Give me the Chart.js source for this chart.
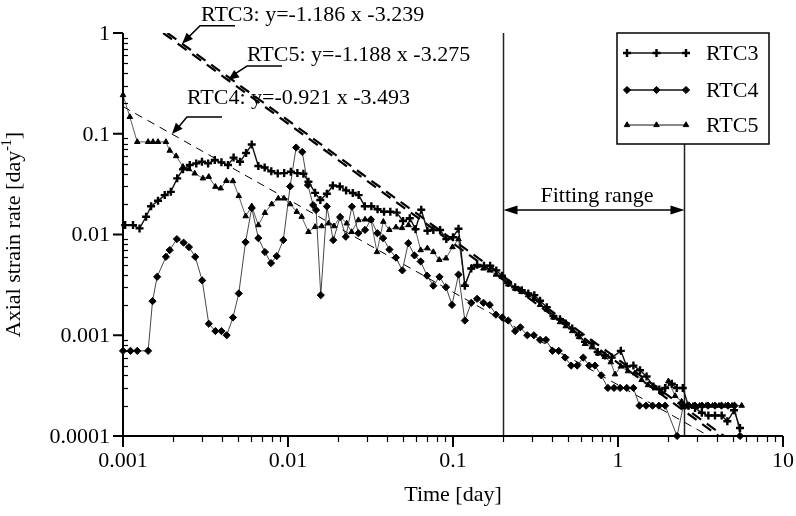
<!DOCTYPE html>
<html>
<head>
<meta charset="utf-8">
<script src="https://cdn.jsdelivr.net/npm/chart.js@4.4.1/dist/chart.umd.min.js"></script>
<style>
  html, body { margin: 0; padding: 0; background: #fff; }
  canvas { display: block; }
</style>
</head>
<body>
<canvas id="myChart" width="796" height="516"></canvas>
<script>
// values (time in days, strain rate in 1/day)
var rtc3Time = [0.00103, 0.00115, 0.00126, 0.00138, 0.00148, 0.00163, 0.00179, 0.00195, 0.00213, 0.00231,
  0.00254, 0.00278, 0.00301, 0.00328, 0.0036, 0.00395, 0.00433, 0.00468, 0.00512, 0.00557,
  0.00603, 0.00661, 0.00722, 0.00792, 0.00867, 0.00948, 0.0104, 0.0114, 0.0124, 0.0133,
  0.0146, 0.0157, 0.0172, 0.0187, 0.0206, 0.0225, 0.0247, 0.0268, 0.0292, 0.032,
  0.0349, 0.0382, 0.0417, 0.0456, 0.0498, 0.0547, 0.0593, 0.0642, 0.07, 0.076,
  0.0835, 0.0911, 0.1, 0.108, 0.118, 0.129, 0.14, 0.154, 0.168, 0.183,
  0.198, 0.216, 0.238, 0.261, 0.286, 0.311, 0.337, 0.37, 0.406, 0.445,
  0.482, 0.528, 0.58, 0.631, 0.693, 0.753, 0.834, 0.916, 1.04, 1.13,
  1.24, 1.36, 1.49, 1.64, 1.78, 1.93, 2.12, 2.27, 2.47, 2.67,
  2.93, 3.22, 3.53, 3.87, 4.25, 4.6, 5.05, 5.49];
var rtc3Rate = [0.0124, 0.0124, 0.0115, 0.015, 0.0191, 0.0216, 0.0246, 0.0265, 0.0361, 0.0443,
  0.0489, 0.0508, 0.0527, 0.0508, 0.0548, 0.052, 0.0489, 0.058, 0.0527, 0.0643,
  0.0781, 0.0478, 0.0462, 0.0424, 0.0404, 0.0407, 0.0419, 0.0407, 0.0401, 0.0334,
  0.0259, 0.022, 0.0254, 0.0306, 0.03, 0.0274, 0.0258, 0.0246, 0.0191, 0.0191,
  0.0178, 0.0168, 0.0168, 0.0165, 0.0136, 0.0145, 0.0113, 0.0176, 0.0109, 0.0111,
  0.0111, 0.009, 0.0094, 0.0114, 0.0031, 0.0046, 0.005, 0.0049, 0.0049, 0.0044,
  0.0039, 0.0033, 0.003, 0.0028, 0.0026, 0.0025, 0.0022, 0.0019, 0.00155, 0.00144,
  0.00131, 0.00117, 0.001, 0.00086, 0.00083, 0.00068, 0.00063, 0.0006, 0.0007, 0.00049,
  0.0005, 0.00045, 0.00039, 0.00031, 0.00029, 0.0003, 0.00033, 0.0003, 0.0003, 0.0002,
  0.00019, 0.00017, 0.00016, 0.00016, 0.00016, 0.00014, 0.00018, 0.00012];

var rtc4Time = [0.001, 0.00111, 0.00122, 0.00142, 0.00151, 0.00161, 0.00182, 0.00192, 0.00212, 0.00233,
  0.00251, 0.00274, 0.00302, 0.00331, 0.00363, 0.00395, 0.00425, 0.00464, 0.00503, 0.00553,
  0.00603, 0.00661, 0.00725, 0.00789, 0.00854, 0.00937, 0.0103, 0.0112, 0.0122, 0.0132,
  0.0142, 0.0148, 0.0158, 0.0172, 0.0188, 0.0207, 0.0224, 0.0244, 0.0267, 0.0293,
  0.0318, 0.0348, 0.0377, 0.0412, 0.0451, 0.0493, 0.0536, 0.0584, 0.0637, 0.0696,
  0.076, 0.0828, 0.0907, 0.0986, 0.108, 0.118, 0.129, 0.14, 0.153, 0.167,
  0.182, 0.199, 0.216, 0.238, 0.256, 0.282, 0.309, 0.337, 0.366, 0.401,
  0.437, 0.478, 0.52, 0.566, 0.616, 0.669, 0.725, 0.792, 0.868, 0.946,
  1.03, 1.13, 1.24, 1.35, 1.48, 1.62, 1.77, 1.93, 2.28, 2.49,
  2.69, 2.93, 3.23, 3.51, 3.87, 4.24, 4.64, 5.08, 5.49];
var rtc4Rate = [0.0007, 0.0007, 0.0007, 0.0007, 0.00218, 0.0038, 0.006, 0.007, 0.009, 0.0083,
  0.0075, 0.006, 0.0035, 0.0013, 0.0011, 0.0011, 0.001, 0.0015, 0.0026, 0.0084,
  0.0183, 0.0092, 0.0067, 0.0052, 0.0061, 0.0088, 0.03, 0.073, 0.066, 0.031,
  0.0196, 0.0175, 0.0025, 0.019, 0.0088, 0.0149, 0.0095, 0.0189, 0.0103, 0.0111,
  0.0141, 0.0103, 0.0092, 0.0071, 0.0059, 0.0044, 0.0082, 0.0062, 0.0054, 0.0039,
  0.0031, 0.0038, 0.003, 0.002, 0.004, 0.0014, 0.0021, 0.0023, 0.0021, 0.002,
  0.0016, 0.0015, 0.0014, 0.0011, 0.0012, 0.001, 0.001, 0.0009, 0.0009, 0.0007,
  0.0007, 0.0006, 0.0005, 0.0005, 0.0006, 0.0005, 0.0005, 0.0004, 0.0003, 0.0003,
  0.0003, 0.0003, 0.0003, 0.0002, 0.0002, 0.0002, 0.0002, 0.0002, 0.0001, 0.0002,
  0.0002, 0.0002, 0.0002, 0.0002, 0.0002, 0.0002, 0.0002, 0.0002, 0.0001];

var rtc5Time = [0.001, 0.0011, 0.00122, 0.00142, 0.00152, 0.00163, 0.00182, 0.00192, 0.0021, 0.00231,
  0.00251, 0.00272, 0.00305, 0.00331, 0.00363, 0.00391, 0.00423, 0.00464, 0.00503, 0.00554,
  0.00603, 0.00661, 0.00725, 0.00796, 0.00873, 0.00946, 0.0103, 0.0113, 0.0121, 0.0133,
  0.0146, 0.016, 0.0176, 0.019, 0.0207, 0.0227, 0.0243, 0.0267, 0.0293, 0.0318,
  0.0346, 0.0378, 0.0411, 0.0451, 0.0491, 0.0537, 0.0589, 0.0637, 0.0699, 0.076,
  0.0826, 0.0907, 0.0993, 0.108, 0.118, 0.13, 0.14, 0.153, 0.167, 0.182,
  0.198, 0.216, 0.238, 0.26, 0.285, 0.311, 0.337, 0.37, 0.406, 0.445,
  0.482, 0.528, 0.58, 0.631, 0.693, 0.757, 0.831, 0.904, 0.959, 1.04,
  1.15, 1.27, 1.39, 1.52, 1.68, 1.84, 2.02, 2.22, 2.43, 2.61,
  2.85, 3.12, 3.42, 3.74, 4.09, 4.48, 4.91, 5.62];
var rtc5Rate = [0.242, 0.147, 0.083, 0.083, 0.083, 0.083, 0.083, 0.068, 0.06, 0.047,
  0.0446, 0.0404, 0.0361, 0.0374, 0.0298, 0.0287, 0.0341, 0.0339, 0.0241, 0.0152,
  0.0191, 0.0124, 0.0164, 0.02, 0.0228, 0.0228, 0.02, 0.0168, 0.015, 0.0106,
  0.0119, 0.0121, 0.0129, 0.0121, 0.015, 0.0129, 0.0106, 0.0139, 0.0141, 0.0139,
  0.0067, 0.0134, 0.0111, 0.0118, 0.0116, 0.0124, 0.0115, 0.007, 0.0073, 0.0067,
  0.0056, 0.0058, 0.0075, 0.009, 0.0032, 0.0047, 0.0049, 0.0046, 0.0044, 0.004,
  0.0038, 0.0032, 0.0029, 0.0027, 0.0025, 0.0023, 0.002, 0.0018, 0.0015, 0.00135,
  0.00123, 0.0011, 0.00096, 0.00082, 0.00076, 0.00066, 0.00061, 0.00054, 0.00041, 0.00049,
  0.00044, 0.00042, 0.00036, 0.00032, 0.0003, 0.00027, 0.00035, 0.00025, 0.00022, 0.0002,
  0.0002, 0.0002, 0.0002, 0.0002, 0.0002, 0.0002, 0.0002, 0.0002];

// fitted lines: log(rate) = slope * log(time) + intercept
var fitNames = ['RTC3', 'RTC5', 'RTC4'];
var fitSlope = [-1.186, -1.188, -0.921];
var fitIntercept = [-3.239, -3.275, -3.493];
var fitArrowTime = [0.00228, 0.00433, 0.00198];

var fittingRange = [0.2, 2.5];
var xTickLabels = ['0.001', '0.01', '0.1', '1', '10'];
var yTickLabels = ['0.0001', '0.001', '0.01', '0.1', '1'];

var FONT = '"Liberation Serif", "Times New Roman", serif';

function toPoints(xs, ys) {
  var out = [];
  for (var i = 0; i < xs.length; i++) out.push({ x: xs[i], y: ys[i] });
  return out;
}

function fitPoints(k) {
  var s = fitSlope[k], b = fitIntercept[k];
  var x0 = Math.max(-3, (0 - b) / s);   // enters the box (rate 1 or time 0.001)
  var x1 = (-4 - b) / s;                // leaves at rate 0.0001
  return [{ x: Math.pow(10, x0), y: Math.pow(10, s * x0 + b) }, { x: Math.pow(10, x1), y: 0.0001 }];
}

function fitValue(k, t) {
  return Math.pow(10, fitSlope[k] * Math.log10(t) + fitIntercept[k]);
}

// annotation leader offsets in px from the arrow tip: elbow, underline end, text
var leaderOffsets = [
  { ex: 18, ey: -18, lx: 53, tx: 19, ty: -23 },
  { ex: 19, ey: -14, lx: 54, tx: 19, ty: -19 },
  { ex: 15, ey: -17, lx: 50, tx: 15, ty: -30 }
];

function arrowHead(ctx, fx, fy, tx, ty, len, half) {
  var ang = Math.atan2(ty - fy, tx - fx);
  ctx.beginPath();
  ctx.moveTo(tx, ty);
  ctx.lineTo(tx - len * Math.cos(ang) + half * Math.sin(ang), ty - len * Math.sin(ang) - half * Math.cos(ang));
  ctx.lineTo(tx - len * Math.cos(ang) - half * Math.sin(ang), ty - len * Math.sin(ang) + half * Math.cos(ang));
  ctx.closePath();
  ctx.fill();
}

var backgroundLines = {
  id: 'backgroundLines',
  beforeDatasetsDraw: function (chart) {
    var ctx = chart.ctx, xs = chart.scales.x, a = chart.chartArea;
    ctx.save();
    ctx.strokeStyle = '#222';
    ctx.lineWidth = 1.5;
    fittingRange.forEach(function (v) {
      var px = Math.round(xs.getPixelForValue(v)) + 0.5;
      ctx.beginPath(); ctx.moveTo(px, a.top); ctx.lineTo(px, a.bottom); ctx.stroke();
    });
    ctx.restore();
  }
};

var axesAndNotes = {
  id: 'axesAndNotes',
  afterDraw: function (chart) {
    var ctx = chart.ctx, xs = chart.scales.x, ys = chart.scales.y, a = chart.chartArea;
    var i, m, v, p;
    ctx.save();
    ctx.fillStyle = '#000';
    ctx.strokeStyle = '#000';

    // axis lines
    ctx.lineWidth = 2;
    ctx.beginPath();
    ctx.moveTo(a.left, a.top); ctx.lineTo(a.left, a.bottom); ctx.lineTo(a.right, a.bottom);
    ctx.stroke();

    // x ticks
    ctx.lineWidth = 1.2;
    for (i = -3; i <= 1; i++) {
      p = xs.getPixelForValue(Math.pow(10, i));
      ctx.lineWidth = 2;
      ctx.beginPath(); ctx.moveTo(p, a.bottom); ctx.lineTo(p, a.bottom + 11); ctx.stroke();
      if (i < 1) {
        ctx.lineWidth = 1.2;
        for (m = 2; m <= 9; m++) {
          p = Math.round(xs.getPixelForValue(m * Math.pow(10, i))) + 0.5;
          ctx.beginPath(); ctx.moveTo(p, a.bottom); ctx.lineTo(p, a.bottom + 6); ctx.stroke();
        }
      }
    }
    // y ticks
    for (i = -4; i <= 0; i++) {
      p = ys.getPixelForValue(Math.pow(10, i));
      ctx.lineWidth = 2;
      ctx.beginPath(); ctx.moveTo(a.left - 10, p); ctx.lineTo(a.left, p); ctx.stroke();
      if (i < 0) {
        ctx.lineWidth = 1.2;
        for (m = 2; m <= 9; m++) {
          p = Math.round(ys.getPixelForValue(m * Math.pow(10, i))) + 0.5;
          ctx.beginPath(); ctx.moveTo(a.left, p); ctx.lineTo(a.left + 5, p); ctx.stroke();
        }
      }
    }

    // tick labels
    ctx.font = '22px ' + FONT;
    ctx.textAlign = 'center'; ctx.textBaseline = 'top';
    xTickLabels.forEach(function (t) {
      ctx.fillText(t, xs.getPixelForValue(parseFloat(t)), a.bottom + 14);
    });
    ctx.textAlign = 'right'; ctx.textBaseline = 'middle';
    yTickLabels.forEach(function (t) {
      ctx.fillText(t, a.left - 13, ys.getPixelForValue(parseFloat(t)) + 1);
    });

    // axis titles
    ctx.textAlign = 'center'; ctx.textBaseline = 'middle';
    ctx.fillText('Time [day]', (a.left + a.right) / 2, a.bottom + 59);

    ctx.save();
    ctx.translate(14, (a.top + a.bottom) / 2);
    ctx.rotate(-Math.PI / 2);
    var main = 'Axial strain rate [day', sup = '-1', tail = ']';
    ctx.font = '22px ' + FONT;
    var w1 = ctx.measureText(main).width, w3 = ctx.measureText(tail).width;
    ctx.font = '14px ' + FONT;
    var w2 = ctx.measureText(sup).width;
    var x0 = -(w1 + w2 + w3) / 2;
    ctx.textAlign = 'left';
    ctx.font = '22px ' + FONT; ctx.fillText(main, x0, 0);
    ctx.font = '14px ' + FONT; ctx.fillText(sup, x0 + w1, -7);
    ctx.font = '22px ' + FONT; ctx.fillText(tail, x0 + w1 + w2, 0);
    ctx.restore();

    // fitting range arrow
    var fy = ys.getPixelForValue(0.0175);
    var fx0 = Math.round(xs.getPixelForValue(fittingRange[0])) + 0.5;
    var fx1 = Math.round(xs.getPixelForValue(fittingRange[1])) + 0.5;
    ctx.lineWidth = 1.5;
    ctx.beginPath(); ctx.moveTo(fx0 + 6, fy); ctx.lineTo(fx1 - 6, fy); ctx.stroke();
    arrowHead(ctx, fx1, fy, fx0, fy, 14, 4.5);
    arrowHead(ctx, fx0, fy, fx1, fy, 14, 4.5);
    ctx.font = '22px ' + FONT;
    ctx.textAlign = 'center'; ctx.textBaseline = 'alphabetic';
    ctx.fillText('Fitting range', xs.getPixelForValue(0.746), fy - 8);

    // equation labels with leader arrows
    for (i = 0; i < fitNames.length; i++) {
      var tipX = xs.getPixelForValue(fitArrowTime[i]);
      var tipY = ys.getPixelForValue(fitValue(i, fitArrowTime[i]));
      var o = leaderOffsets[i];
      ctx.lineWidth = 1.5;
      ctx.beginPath();
      ctx.moveTo(tipX + o.lx, tipY + o.ey);
      ctx.lineTo(tipX + o.ex, tipY + o.ey);
      ctx.lineTo(tipX + 5, tipY - 5);
      ctx.stroke();
      arrowHead(ctx, tipX + o.ex, tipY + o.ey, tipX, tipY, 11, 4.5);
      ctx.textAlign = 'left';
      ctx.fillText(fitNames[i] + ': y=' + fitSlope[i].toFixed(3) + ' x ' + fitIntercept[i].toFixed(3),
        tipX + o.tx, tipY + o.ty);
    }

    // legend box
    var bw = 152, bh = 111;
    var bx = a.right - 14 - bw, by = a.top;
    ctx.fillStyle = '#fff';
    ctx.fillRect(bx, by, bw, bh);
    ctx.fillStyle = '#000';
    ctx.lineWidth = 1.5;
    ctx.strokeRect(bx, by, bw, bh);
    var rows = [20, 57, 92];
    for (i = 0; i < 3; i++) {
      var ds = chart.data.datasets[i];
      var ry = by + rows[i];
      ctx.lineWidth = i === 2 ? 1 : 1.6;
      ctx.strokeStyle = '#111';
      ctx.beginPath(); ctx.moveTo(bx + 10, ry); ctx.lineTo(bx + 69, ry); ctx.stroke();
      [10, 39.5, 69].forEach(function (dx) {
        ctx.fillStyle = '#000'; ctx.strokeStyle = '#000';
        ctx.lineWidth = ds.pointBorderWidth;
        Chart.helpers.drawPoint(ctx, { pointStyle: ds.pointStyle, radius: ds.pointRadius, rotation: 0, borderWidth: ds.pointBorderWidth }, bx + dx, ry);
      });
      ctx.fillStyle = '#000';
      ctx.font = '22px ' + FONT;
      ctx.textAlign = 'left'; ctx.textBaseline = 'middle';
      ctx.fillText(ds.label, bx + 89, ry + 1);
    }
    ctx.restore();
  }
};

var datasets = [
  { label: 'RTC3', data: toPoints(rtc3Time, rtc3Rate), borderColor: '#111', borderWidth: 1.4,
    pointStyle: 'cross', pointRadius: 4, pointBorderWidth: 2.4, pointBorderColor: '#000', pointBackgroundColor: '#000', clip: 8 },
  { label: 'RTC4', data: toPoints(rtc4Time, rtc4Rate), borderColor: '#333', borderWidth: 0.9,
    pointStyle: 'rectRot', pointRadius: 3.6, pointBorderWidth: 1, pointBorderColor: '#000', pointBackgroundColor: '#000', clip: 8 },
  { label: 'RTC5', data: toPoints(rtc5Time, rtc5Rate), borderColor: '#333', borderWidth: 0.8,
    pointStyle: 'triangle', pointRadius: 3.2, pointBorderWidth: 1, pointBorderColor: '#000', pointBackgroundColor: '#000', clip: 8 }
];
for (var k = 0; k < fitNames.length; k++) {
  datasets.push({
    label: 'fit ' + fitNames[k], data: fitPoints(k), borderColor: '#000',
    borderWidth: k === 2 ? 1 : 2.2, borderDash: k === 2 ? [8, 6] : [11, 7],
    pointRadius: 0
  });
}

var ctx = document.getElementById('myChart').getContext('2d');
var myChart = new Chart(ctx, {
  type: 'line',
  data: { datasets: datasets },
  options: {
    responsive: false,
    animation: false,
    devicePixelRatio: 1,
    layout: { padding: { left: 0, right: 13, top: 33, bottom: 0 } },
    elements: { line: { tension: 0 } },
    plugins: { legend: { display: false }, tooltip: { enabled: false } },
    scales: {
      x: {
        type: 'logarithmic', min: 0.001, max: 10,
        ticks: { display: false }, grid: { display: false }, border: { display: false },
        afterFit: function (s) { s.height = 80; }
      },
      y: {
        type: 'logarithmic', min: 0.0001, max: 1,
        ticks: { display: false }, grid: { display: false }, border: { display: false },
        afterFit: function (s) { s.width = 123; }
      }
    }
  },
  plugins: [backgroundLines, axesAndNotes]
});
</script>
</body>
</html>
